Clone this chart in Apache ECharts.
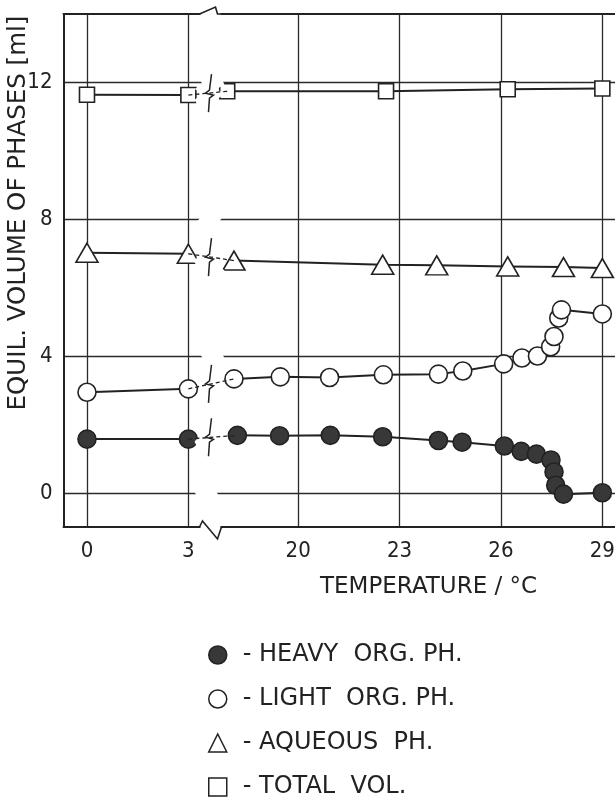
<!DOCTYPE html>
<html>
<head>
<meta charset="utf-8">
<script src="https://cdn.jsdelivr.net/npm/echarts@6/dist/echarts.min.js"></script>
<style>
  html, body { margin: 0; padding: 0; background: #ffffff; }
  #chart { width: 615px; height: 798px; }
</style>
</head>
<body>
<div id="chart"></div>
<script>
// Axis ticks (temperature axis is broken between 3 and 20 °C)
const xTicks = [0, 3, 20, 23, 26, 29];
const yTicks = [0, 4, 8, 12];
const breakStart = 3.3;
const breakEnd = 17.7;

// Heavy organic phase
const heavyT = [0, 3, 18.2, 19.45, 20.95, 22.5, 24.15, 24.85, 26.1, 26.6, 27.05, 27.48, 27.57, 27.62, 27.85, 29];
const heavyV = [1.57, 1.57, 1.68, 1.67, 1.68, 1.64, 1.53, 1.48, 1.37, 1.21, 1.13, 0.96, 0.61, 0.22, -0.04, 0];

// Light organic phase
const lightT = [0, 3, 18.1, 19.47, 20.93, 22.52, 24.15, 24.87, 26.08, 26.62, 27.08, 27.47, 27.57, 27.71, 27.79, 29];
const lightV = [2.94, 3.04, 3.33, 3.39, 3.37, 3.45, 3.47, 3.56, 3.77, 3.94, 4.0, 4.27, 4.57, 5.11, 5.35, 5.23];

// Aqueous phase
const aqT = [0, 3, 18.1, 22.5, 24.1, 26.2, 27.85, 29];
const aqV = [7.02, 6.99, 6.79, 6.67, 6.65, 6.62, 6.6, 6.57];

// Total volume
const totT = [0, 3, 17.9, 22.6, 26.2, 29];
const totV = [11.64, 11.63, 11.74, 11.74, 11.8, 11.82];

const INK = '#222';
const FONT = '"DejaVu Sans", "Liberation Sans", sans-serif';
const TICK_FONT = '"DejaVu Sans Condensed", "DejaVu Sans", sans-serif';
const X_MIN = -0.695;
const X_MAX = 29.7;
const Y_MIN = -1;
const Y_MAX = 14;

// Solid segments on each side of the break, with a gap across it
function solidData(xs, ys) {
  const out = [];
  for (let i = 0; i < xs.length; i++) {
    out.push([xs[i], ys[i]]);
    if (i + 1 < xs.length && xs[i] < breakStart && xs[i + 1] > breakEnd) {
      out.push([xs[i], null]);
    }
  }
  return out;
}
// Dashed link across the break
function linkData(xs, ys) {
  for (let i = 0; i + 1 < xs.length; i++) {
    if (xs[i] < breakStart && xs[i + 1] > breakEnd) {
      return [[xs[i], ys[i]], [xs[i + 1], ys[i + 1]]];
    }
  }
  return [];
}

const phases = [
  { name: 'HEAVY  ORG. PH.', t: heavyT, v: heavyV, symbol: 'circle', size: 18, fill: '#383838', icon: 'circle' },
  { name: 'LIGHT  ORG. PH.', t: lightT, v: lightV, symbol: 'circle', size: 18, fill: '#ffffff', icon: 'circle' },
  { name: 'AQUEOUS  PH.', t: aqT, v: aqV, symbol: 'triangle', size: [22, 19], fill: '#ffffff', icon: 'triangle' },
  { name: 'TOTAL  VOL.', t: totT, v: totV, symbol: 'rect', size: 15, fill: '#ffffff', icon: 'rect' }
];

const series = [];
phases.forEach(function (p) {
  series.push({
    name: p.name,
    type: 'line',
    data: solidData(p.t, p.v),
    connectNulls: false,
    symbol: p.symbol,
    symbolSize: p.size,
    showAllSymbol: true,
    lineStyle: { color: INK, width: 2 },
    itemStyle: { color: p.fill, borderColor: INK, borderWidth: 1.6 },
    z: 3
  });
  series.push({
    name: p.name + ' link',
    type: 'line',
    data: linkData(p.t, p.v),
    symbol: 'none',
    lineStyle: { color: INK, width: 1.3, type: [4, 3] },
    silent: true,
    z: 110
  });
});

// Frame lines drawn as plain axis lines so they run unbroken over the break
function frameXAxis(position) {
  return {
    type: 'value',
    position: position,
    min: X_MIN,
    max: X_MAX,
    z: 120,
    axisLine: { show: true, onZero: false, lineStyle: { color: INK, width: 2 } },
    axisTick: { show: false },
    axisLabel: { show: false },
    splitLine: { show: false }
  };
}

const chart = echarts.init(document.getElementById('chart'), null, { renderer: 'canvas' });
chart.setOption({
  animation: false,
  backgroundColor: '#ffffff',
  title: {
    text: 'TEMPERATURE / °C',
    left: 315,
    top: 569,
    textStyle: { fontFamily: FONT, fontSize: 23, fontWeight: 'normal', color: INK, lineHeight: 26 }
  },
  grid: {
    left: 63.5,
    top: 14,
    width: 562.5,
    bottom: 271,
    outerBoundsMode: 'none',
    containLabel: false,
    show: false
  },
  xAxis: [{
    type: 'value',
    min: X_MIN,
    max: X_MAX,
    z: 1,
    breaks: [{ start: breakStart, end: breakEnd, gap: '3.9%' }],
    breakArea: {
      show: true,
      expandOnClick: false,
      itemStyle: { color: '#ffffff', borderColor: 'transparent', borderWidth: 0, opacity: 1 }
    },
    axisLine: { show: false },
    axisTick: { show: false, customValues: xTicks },
    axisLabel: {
      customValues: xTicks,
      margin: 13,
      fontFamily: TICK_FONT,
      fontSize: 22,
      color: INK
    },
    splitLine: { show: true, lineStyle: { color: '#2a2a2a', width: 1.3 } }
  }, frameXAxis('top'), frameXAxis('bottom')],
  yAxis: [{
    type: 'value',
    min: Y_MIN,
    max: Y_MAX,
    axisLine: { show: false },
    axisTick: { show: false, customValues: yTicks },
    axisLabel: {
      customValues: yTicks,
      margin: 11,
      fontFamily: TICK_FONT,
      fontSize: 22,
      color: INK
    },
    splitLine: { show: true, lineStyle: { color: '#2a2a2a', width: 1.3 } }
  }, {
    type: 'value',
    position: 'left',
    min: Y_MIN,
    max: Y_MAX,
    z: 120,
    axisLine: { show: true, onZero: false, lineStyle: { color: INK, width: 2 } },
    axisTick: { show: false },
    axisLabel: { show: false },
    splitLine: { show: false }
  }],
  legend: {
    orient: 'vertical',
    left: 203,
    top: 638,
    height: 160,
    itemWidth: 18,
    itemHeight: 18,
    itemGap: 20,
    selectedMode: false,
    formatter: '- {name}',
    textStyle: { fontFamily: FONT, fontSize: 24, color: INK, lineHeight: 24, padding: [0, 0, 0, 11] },
    data: phases.map(function (p) {
      return {
        name: p.name,
        icon: p.icon,
        itemStyle: { color: p.fill, borderColor: INK, borderWidth: 1.5 }
      };
    })
  },
  graphic: [{
    type: 'text',
    x: 18.5,
    y: 213,
    rotation: Math.PI / 2,
    style: {
      text: 'EQUIL. VOLUME OF PHASES [ml]',
      font: '24.5px ' + FONT,
      fill: INK,
      align: 'center',
      verticalAlign: 'middle'
    }
  }],
  series: series
});

// Break marks: zigzags on the frame and on each curve, placed from the axis scales
(function drawBreakMarks() {
  const xA = chart.convertToPixel({ xAxisIndex: 0 }, breakStart);
  const xB = chart.convertToPixel({ xAxisIndex: 0 }, breakEnd);
  const xm = (xA + xB) / 2;
  const yTop = chart.convertToPixel({ yAxisIndex: 0 }, Y_MAX);
  const yBot = chart.convertToPixel({ yAxisIndex: 0 }, Y_MIN);
  const marks = [];

  // frame: blank the straight piece, then draw the zigzag
  const framePaths = [
    [[xm - 10, yTop], [xm + 6, yTop - 7], [xm + 8, yTop], [xm + 12, yTop]],
    [[xm - 10, yBot], [xm - 7, yBot - 6], [xm + 8, yBot + 12], [xm + 12, yBot]]
  ];
  [yTop, yBot].forEach(function (y, k) {
    marks.push({
      type: 'rect', z: 130, silent: true,
      shape: { x: xm - 9, y: y - 2, width: 20, height: 4 },
      style: { fill: '#ffffff' }
    });
    marks.push({
      type: 'polyline', z: 131, silent: true,
      shape: { points: framePaths[k] },
      style: { stroke: INK, lineWidth: 1.6, fill: 'none' }
    });
  });

  // curves: small vertical zigzag where the dashed link crosses the break
  phases.forEach(function (p) {
    const link = linkData(p.t, p.v);
    if (!link.length) return;
    const yv = chart.convertToPixel({ yAxisIndex: 0 }, (link[0][1] + link[1][1]) / 2);
    const x = xm;
    marks.push({
      type: 'polyline', z: 131, silent: true,
      shape: { points: [[x + 2, yv - 19], [x, yv - 3], [x - 4, yv], [x + 4, yv + 2], [x, yv + 5], [x - 1, yv + 19]] },
      style: { stroke: INK, lineWidth: 1.5, fill: 'none' }
    });
  });

  chart.setOption({ graphic: marks.map(function (m, i) { return Object.assign({ id: 'brk' + i }, m); }) });
})();
</script>
</body>
</html>
